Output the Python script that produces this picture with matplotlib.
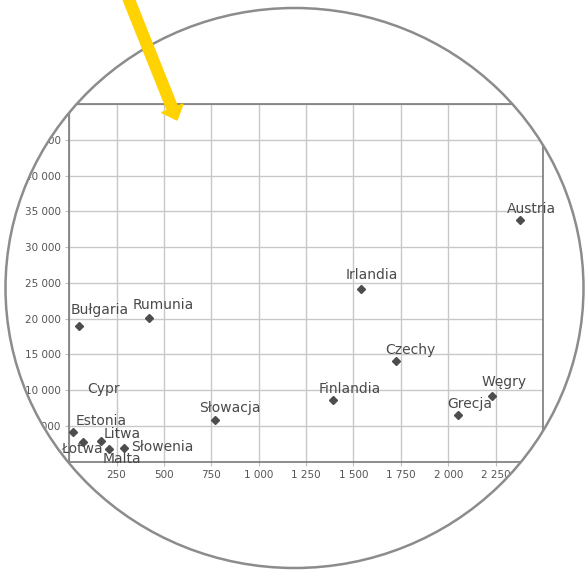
import matplotlib
matplotlib.use('Agg')
import matplotlib.pyplot as plt
from matplotlib.patches import Ellipse, PathPatch, FancyArrow
from matplotlib.path import Path
from matplotlib.transforms import Affine2D
from matplotlib.ticker import FuncFormatter, MultipleLocator

# dane
kraje = ['Austria', 'Irlandia', 'Czechy', 'Finlandia', 'Węgry', 'Grecja',
         'Rumunia', 'Bułgaria', 'Słowacja', 'Estonia', 'Łotwa', 'Litwa',
         'Malta', 'Słowenia']
x_vals = [2378, 1539, 1725, 1392, 2229, 2053, 420, 53, 767, 22, 74, 167, 209, 290]
y_vals = [33760, 24190, 14060, 8570, 9180, 6480, 20110, 18950, 5820, 4190,
          2710, 2930, 1730, 1960]

# przesunięcia etykiet w pikselach (środek, linia bazowa)
offsets = {
    'Austria': (12, 7), 'Irlandia': (11, 10), 'Czechy': (14, 7),
    'Finlandia': (17, 7), 'Węgry': (12, 10), 'Grecja': (11, 7),
    'Rumunia': (14, 9), 'Bułgaria': (20, 12), 'Słowacja': (15, 8),
    'Estonia': (28, 7), 'Łotwa': (-1, -11), 'Litwa': (21, 3),
    'Malta': (13, -14), 'Słowenia': (38, -3),
}

fig = plt.figure(figsize=(5.85, 5.7), dpi=100)
ax = fig.add_axes([69.2 / 585, (570 - 461.7) / 570, (543 - 69.2) / 585, (461.7 - 104) / 570])

ax.set_xlim(0, 2500)
ax.set_ylim(0, 50000)
ax.xaxis.set_major_locator(MultipleLocator(250))
ax.yaxis.set_major_locator(MultipleLocator(5000))
fmt = FuncFormatter(lambda v, p: '{:,}'.format(int(v)).replace(',', ' '))
ax.xaxis.set_major_formatter(fmt)
ax.yaxis.set_major_formatter(fmt)
ax.grid(True, color='#c8c8c8', linewidth=1.0)
ax.set_axisbelow(True)
ax.tick_params(length=3, color='#c0c0c0', labelsize=7.5, labelcolor='#555555', pad=3)
for s in ax.spines.values():
    s.set_color('#7a7a7a')
    s.set_linewidth(1.2)

ax.plot(x_vals, y_vals, 'D', color='#4d4d4d', markersize=4.5, zorder=3)
for k, x, y in zip(kraje, x_vals, y_vals):
    dx, dy = offsets[k]
    ax.annotate(k, (x, y), xytext=(dx * 0.72, dy * 0.72), textcoords='offset points',
                ha='center', va='baseline', fontsize=10, color='#4a4a4a')
# etykieta bez znacznika
ax.text(183, 9550, 'Cypr', ha='center', va='baseline', fontsize=10, color='#4a4a4a')

# maska poza lupą
tr = fig.dpi_scale_trans
cx, cy, rx, ry = 2.945, 2.82, 2.89, 2.80
rect = Path([(-1, -1), (-1, 7), (7, 7), (7, -1), (-1, -1)],
            [Path.MOVETO, Path.LINETO, Path.LINETO, Path.LINETO, Path.CLOSEPOLY])
circ = Path.unit_circle().transformed(Affine2D().scale(rx, ry).translate(cx, cy))
mask = PathPatch(Path.make_compound_path(rect, circ), facecolor='white',
                 edgecolor='none', transform=tr, zorder=5)
fig.add_artist(mask)
fig.add_artist(Ellipse((cx, cy), 2 * rx, 2 * ry, fill=False, edgecolor='#8c8c8c',
                       linewidth=1.8, transform=tr, zorder=6))

# żółta strzałka
arrow = FancyArrow(1.27, 5.75, 0.50, -1.25, width=0.109, head_width=0.23,
                   head_length=0.126, length_includes_head=True,
                   color='#ffd200', transform=tr, zorder=7)
fig.add_artist(arrow)

fig.savefig('out.png', dpi=100)
